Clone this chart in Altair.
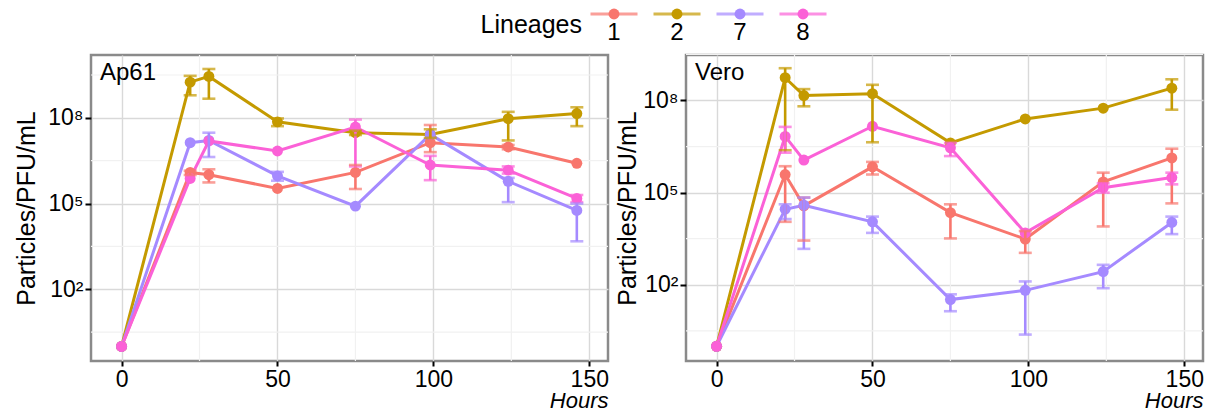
import altair as alt
import pandas as pd

FONT = "Liberation Sans"

times = [0, 22, 28, 50, 75, 99, 124, 146]
lineages = ["1", "2", "7", "8"]
colors = ["#F8766D", "#C49A00", "#A58AFF", "#FB61D7"]
panels = ["Ap61", "Vero"]

# values, as log10(Particles/PFU/mL)
ap61_l1 = [0, 6.09, 6.01, 5.53, 6.09, 7.13, 6.98, 6.41]
ap61_l2 = [0, 9.25, 9.45, 7.86, 7.48, 7.42, 7.97, 8.15]
ap61_l7 = [0, 7.13, 7.21, 5.97, 4.91, 7.42, 5.78, 4.76]
ap61_l8 = [0, 5.88, 7.19, 6.84, 7.68, 6.35, 6.17, 5.18]

vero_l1 = [0, 5.59, 4.57, 5.84, 4.35, 3.49, 5.35, 6.13]
vero_l2 = [0, 8.74, 8.16, 8.22, 6.62, 7.40, 7.75, 8.40]
vero_l7 = [0, 4.46, 4.59, 4.05, 1.52, 1.82, 2.43, 4.03]
vero_l8 = [0, 6.83, 6.06, 7.16, 6.46, 3.69, 5.16, 5.49]

# error bar ends (log10), None where no bar is drawn
ap61_l1_lo = [None, 6.00, 5.74, None, 5.51, 6.80, 6.90, None]
ap61_l1_hi = [None, 6.15, 6.20, None, 6.35, 7.75, 7.05, None]
ap61_l2_lo = [None, 8.79, 8.67, 7.71, 7.40, 7.30, 7.21, 7.71]
ap61_l2_hi = [None, 9.47, 9.71, 7.98, 7.55, 7.60, 8.21, 8.37]
ap61_l7_lo = [None, None, 6.63, 5.80, None, None, 5.05, 3.68]
ap61_l7_hi = [None, None, 7.48, 6.11, None, None, 5.90, 5.00]
ap61_l8_lo = [None, None, None, None, 6.30, 5.82, 6.05, 5.05]
ap61_l8_hi = [None, None, None, None, 7.94, 6.67, 6.30, 5.30]

vero_l1_lo = [None, 4.05, 3.44, 5.59, 3.51, 3.04, 3.90, 4.65]
vero_l1_hi = [None, 5.86, 4.84, 6.00, 4.62, 3.75, 5.65, 6.43]
vero_l2_lo = [None, 6.38, 7.81, 6.64, None, None, None, 7.70]
vero_l2_hi = [None, 9.05, 8.37, 8.51, None, None, None, 8.69]
vero_l7_lo = [None, 4.14, 3.17, 3.69, 1.14, 0.38, 1.89, 3.65]
vero_l7_hi = [None, 4.62, 4.84, 4.22, 1.69, 2.11, 2.65, 4.22]
vero_l8_lo = [None, 6.30, None, None, 6.19, None, 5.00, 5.27]
vero_l8_hi = [None, 7.14, None, None, 6.62, None, 5.30, 5.65]

x_major = [0, 50, 100, 150]
x_minor = [25, 75, 125]
y_major_exp = [2, 5, 8]
y_minor_exp = [0.5, 3.5, 6.5, 9.5]
y_limits = {"Ap61": (-0.51, 10.2), "Vero": (-0.48, 9.48)}
x_limits = (-9.8, 156)
y_title_pad = {"Ap61": 8, "Vero": 2}

series = {
    "Ap61": [(ap61_l1, ap61_l1_lo, ap61_l1_hi), (ap61_l2, ap61_l2_lo, ap61_l2_hi),
             (ap61_l7, ap61_l7_lo, ap61_l7_hi), (ap61_l8, ap61_l8_lo, ap61_l8_hi)],
    "Vero": [(vero_l1, vero_l1_lo, vero_l1_hi), (vero_l2, vero_l2_lo, vero_l2_hi),
             (vero_l7, vero_l7_lo, vero_l7_hi), (vero_l8, vero_l8_lo, vero_l8_hi)],
}


def p10(v):
    return None if v is None else 10 ** v


def make_df(name):
    rows = []
    for lin, (vals, los, his) in zip(lineages, series[name]):
        for t, v, lo, hi in zip(times, vals, los, his):
            rows.append({"lineage": lin, "time": t, "val": p10(v), "lo": p10(lo), "hi": p10(hi)})
    return pd.DataFrame(rows)


color = alt.Color("lineage:N", scale=alt.Scale(domain=lineages, range=colors), legend=None)

label_expr = "datum.value >= 1e8 ? '10⁸' : datum.value >= 1e5 ? '10⁵' : '10²'"


def panel(name):
    df = make_df(name)
    lo_e, hi_e = y_limits[name]
    xs = alt.Scale(domain=list(x_limits), nice=False, zero=False)
    ys = alt.Scale(type="log", domain=[10 ** lo_e, 10 ** hi_e], nice=False)
    xaxis = alt.Axis(values=x_major, title="Hours", titleFontStyle="italic", titleAnchor="end",
                     titleFontSize=22, titleFontWeight="normal", titleFont=FONT, titlePadding=-1,
                     titleColor="black",
                     labelFontSize=23, labelFont=FONT, labelColor="black", labelPadding=2,
                     tickColor="black", tickWidth=2, tickSize=5, domain=False,
                     grid=True, gridColor="#D9D9D9", gridWidth=1.4, labelFlush=False)
    yaxis = alt.Axis(values=[10 ** e for e in y_major_exp], labelExpr=label_expr,
                     title="Particles/PFU/mL", titleFontSize=25, titleFontWeight="normal",
                     titleFont=FONT, titleColor="black", titlePadding=y_title_pad[name],
                     labelFontSize=23, labelFont=FONT, labelColor="black", labelPadding=2,
                     tickColor="black", tickWidth=2, tickSize=6, domain=False,
                     grid=True, gridColor="#D9D9D9", gridWidth=1.4, labelFlush=False)

    minor_x = alt.Chart(pd.DataFrame({"mx": x_minor})).mark_rule(
        color="#F1F1F1", strokeWidth=1.2).encode(x=alt.X("mx:Q", scale=xs, axis=xaxis))
    minor_y = alt.Chart(pd.DataFrame({"my": [10 ** e for e in y_minor_exp]})).mark_rule(
        color="#F1F1F1", strokeWidth=1.2).encode(y=alt.Y("my:Q", scale=ys, axis=yaxis))

    base = alt.Chart(df)
    x = alt.X("time:Q", scale=xs, axis=xaxis)
    lines = base.mark_line(strokeWidth=3).encode(
        x=x, y=alt.Y("val:Q", scale=ys, axis=yaxis), color=color, order="time:Q")
    pts = base.mark_circle(size=120, opacity=1).encode(
        x=x, y=alt.Y("val:Q", scale=ys, axis=yaxis), color=color)
    eb = base.transform_filter("isValid(datum.lo)")
    err = eb.mark_rule(strokeWidth=2.6).encode(
        x=x, y=alt.Y("lo:Q", scale=ys, axis=yaxis), y2="hi:Q", color=color)
    cap_lo = eb.mark_tick(orient="horizontal", size=13, thickness=2.6).encode(
        x=x, y=alt.Y("lo:Q", scale=ys, axis=yaxis), color=color)
    cap_hi = eb.mark_tick(orient="horizontal", size=13, thickness=2.6).encode(
        x=x, y=alt.Y("hi:Q", scale=ys, axis=yaxis), color=color)
    label = alt.Chart(pd.DataFrame({"panel": [name]})).mark_text(
        align="left", baseline="top", fontSize=24, font=FONT, color="black").encode(
        x=alt.value(9), y=alt.value(6), text="panel:N")

    return alt.layer(minor_x, minor_y, lines, pts, err, cap_lo, cap_hi, label).properties(
        width=517, height=306,
        view=alt.ViewBackground(stroke="#8A8A8A", strokeWidth=2.5, fill="white"))


# legend positions are relative to the left panel's plot origin
leg_df = pd.DataFrame({"lineage": lineages})
lx = alt.X("lineage:N", scale=alt.Scale(type="point", domain=lineages, range=[523, 712], padding=0),
           axis=None)
leg_lines = alt.Chart(leg_df).mark_tick(orient="horizontal", size=47, thickness=3).encode(
    x=lx, y=alt.value(6), color=color)
leg_pts = alt.Chart(leg_df).mark_circle(size=120, opacity=1).encode(x=lx, y=alt.value(6), color=color)
leg_txt = alt.Chart(leg_df).mark_text(fontSize=24, font=FONT, baseline="middle", color="black").encode(
    x=lx, y=alt.value(25), text="lineage:N")
leg_title = alt.Chart(pd.DataFrame({"t": ["Lineages"]})).mark_text(
    fontSize=25, font=FONT, align="right", baseline="middle", color="black").encode(
    x=alt.value(491), y=alt.value(17), text="t:N")
legend = alt.layer(leg_lines, leg_pts, leg_txt, leg_title).properties(
    width=760, height=40, view=alt.ViewBackground(strokeWidth=0, stroke="transparent"))

chart = alt.vconcat(
    legend,
    alt.hconcat(panel("Ap61"), panel("Vero"), spacing=4),
    spacing=4,
).properties(padding={"left": 5, "top": 0, "right": 0, "bottom": 0}, background="white")

chart.save("out.html", embed_options={"renderer": "svg", "actions": False})
